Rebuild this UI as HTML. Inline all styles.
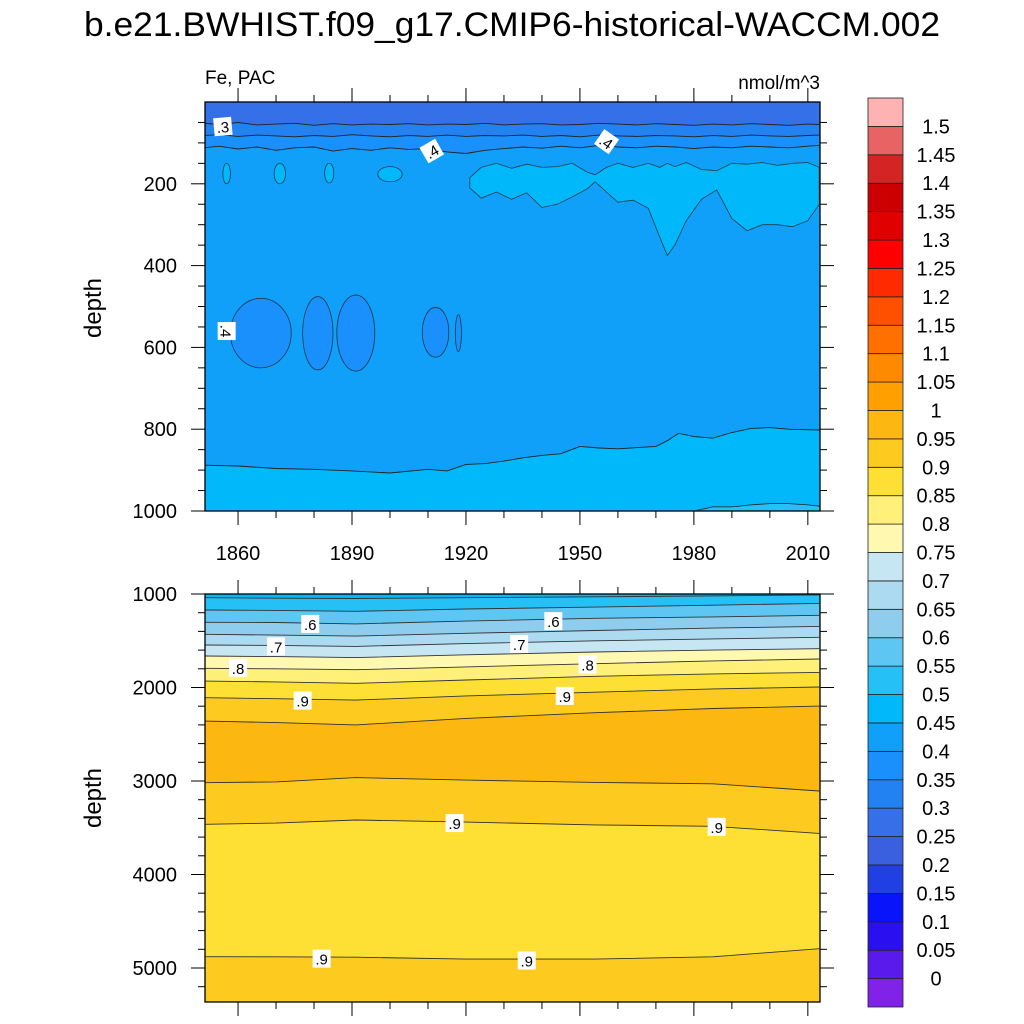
<!DOCTYPE html>
<html><head><meta charset="utf-8"><style>
body{margin:0;background:#fff;}
svg{display:block;font-family:"Liberation Sans",Arial,sans-serif;}
</style></head><body>
<svg id="chart" width="1024" height="1024" viewBox="0 0 1024 1024">
<text x="512" y="36" text-anchor="middle" font-size="34" textLength="856" lengthAdjust="spacingAndGlyphs">b.e21.BWHIST.f09_g17.CMIP6-historical-WACCM.002</text>
<text x="205" y="84" font-size="19">Fe, PAC</text>
<text x="820" y="89" text-anchor="end" font-size="19">nmol/m^3</text>
<g id="topPanel"></g>
<g id="botPanel"></g>
<g id="cbar"></g>
<text transform="translate(101,308) rotate(-90)" text-anchor="middle" font-size="24">depth</text>
<text transform="translate(101,798) rotate(-90)" text-anchor="middle" font-size="24">depth</text>
</svg>
<script>
// ---- data ----
const cbLevels = [0,0.05,0.1,0.15,0.2,0.25,0.3,0.35,0.4,0.45,0.5,0.55,0.6,0.65,0.7,0.75,0.8,0.85,0.9,0.95,1,1.05,1.1,1.15,1.2,1.25,1.3,1.35,1.4,1.45,1.5];
const cbColors = ["#8022e8","#5a1aec","#2a10f0","#0a14fa","#2040e4","#3a60e0","#3570e8","#2282f2","#1a90fc","#10a0fa","#00b8fa","#25c0f6","#5ec6f2","#8ecdee","#acdaf0","#c6e6f4","#fff8b0","#fff07a","#fee035","#fdcb20","#fcb710","#ffa000","#ff8a00","#ff7000","#ff5000","#ff2a00","#ff0000","#e00000","#cc0000","#d42525","#e86464","#ffb2b2"];

const topYears = [1851,1855,1860,1865,1870,1875,1880,1885,1890,1895,1900,1905,1910,1915,1920,1925,1930,1935,1940,1945,1950,1955,1960,1965,1970,1975,1980,1985,1990,1995,2000,2005,2010,2013];
const lineA = [52,55,50,56,54,52,57,53,56,54,55,53,56,54,55,52,56,54,53,56,55,52,54,56,53,55,57,54,56,53,55,57,54,55];
const lineB = [82,80,84,81,83,85,82,84,80,83,85,82,84,81,84,82,83,81,84,82,85,81,83,84,82,83,85,82,84,81,83,84,82,81];
const lineC = [112,108,115,110,118,112,110,120,114,118,112,116,114,122,126,118,114,110,113,108,112,106,110,112,108,110,114,110,112,108,110,112,108,106];
const deepYears = [1851,1860,1870,1880,1890,1900,1910,1915,1920,1925,1930,1935,1940,1945,1950,1955,1960,1965,1970,1973,1976,1980,1985,1990,1995,2000,2005,2013];
const deepLine = [888,890,896,898,902,907,898,902,886,884,878,870,864,860,842,846,848,845,842,828,810,818,822,808,798,796,800,802];
const patchYears = [1921,1924,1928,1932,1936,1940,1944,1948,1952,1954,1957,1960,1964,1968,1971,1973,1975,1978,1982,1986,1990,1994,1998,2002,2006,2010,2013];
const patchTop = [185,160,150,162,152,160,158,150,172,178,160,150,160,150,160,150,158,148,165,168,150,152,148,155,150,148,160];
const patchBot = [210,235,220,238,222,258,250,232,212,195,220,245,240,260,330,375,350,290,238,215,285,315,300,300,305,290,250];
const blobYears = [1857,1871,1884,1900,1866,1881,1891,1912,1918];
const blobHalfW = [1.0,1.5,1.2,3.2,8,4,5,3.5,0.8];
const blobTop = [150,150,150,158,480,476,472,502,520];
const blobBot = [200,200,198,195,650,655,658,624,610];
const blobVal = [0.45,0.45,0.45,0.45,0.35,0.35,0.35,0.35,0.35];
const deepPatchYears = [1980,1985,1990,1995,2000,2005,2010,2013];
const deepPatchTop = [1000,990,990,985,982,982,985,988];

const botYears = [1851,1870,1891,1920,1954,1985,2013];
const botLines = [
 [1040,1045,1048,1040,1030,1020,1010],
 [1171,1175,1185,1160,1140,1120,1100],
 [1303,1305,1320,1290,1260,1245,1228],
 [1431,1440,1450,1420,1390,1365,1346],
 [1545,1550,1560,1530,1500,1480,1463],
 [1663,1670,1680,1650,1620,1600,1585],
 [1795,1800,1810,1780,1745,1715,1695],
 [1930,1940,1955,1920,1880,1855,1838],
 [2109,2120,2135,2090,2050,2015,1995],
 [2358,2375,2400,2330,2270,2225,2199],
 [3018,3010,2964,2990,3015,3030,3107],
 [3463,3450,3417,3440,3470,3485,3560],
 [4879,4880,4885,4905,4905,4880,4794]];
const botBandVals = [0.45,0.5,0.55,0.6,0.65,0.7,0.75,0.8,0.85,0.9,0.95,0.9,0.85,0.9];

const xTickYears = [1860,1890,1920,1950,1980,2010];
const topYTicks = [200,400,600,800,1000];
const botYTicks = [1000,2000,3000,4000,5000];

const topLabels = [[1856,60,".3",-5],[1911,120,".4",-30],[1957,97,".4",35],[1857,560,".4",90]];
const botLabels = [[1879,1320,".6"],[1943,1290,".6"],[1870,1560,".7"],[1934,1535,".7"],[1860,1790,".8"],[1952,1755,".8"],[1877,2140,".9"],[1946,2090,".9"],[1917,3450,".9"],[1986,3490,".9"],[1882,4900,".9"],[1936,4920,".9"]];

// ---- axes ----
const X0=205,X1=820,Y0=1851.3,Y1=2013.2;
const xs = y => X0+(y-Y0)/(Y1-Y0)*(X1-X0);
const T0=102,T1=511; const ysT = d => T0 + d/1000*(T1-T0);
const B0=594,B1=1002; const ysB = d => B0 + (d-1000)*0.0935;
const NS="http://www.w3.org/2000/svg";
function mk(tag,attrs,parent){const e=document.createElementNS(NS,tag);for(const k in attrs)e.setAttribute(k,attrs[k]);parent.appendChild(e);return e;}
function colorOf(v){return cbColors[Math.round(v/0.05)+1];}
function pts(years,vals,ys){return years.map((y,i)=>xs(y).toFixed(1)+","+ys(vals[i]).toFixed(1));}

const topG=document.getElementById('topPanel');
const defs=mk('defs',{},document.getElementById('chart'));
const cp1=mk('clipPath',{id:'c1'},defs);mk('rect',{x:X0,y:T0,width:X1-X0,height:T1-T0},cp1);
const cp2=mk('clipPath',{id:'c2'},defs);mk('rect',{x:X0,y:B0,width:X1-X0,height:B1-B0},cp2);
const tg=mk('g',{'clip-path':'url(#c1)'},topG);
let r=mk('rect',{x:X0,y:T0,width:X1-X0,height:T1-T0,fill:colorOf(0.25)},tg);


const topSeq=[[topYears,lineA,0.3],[topYears,lineB,0.35],[topYears,lineC,0.4],[deepYears,deepLine,0.45]];
topSeq.forEach((s,i)=>{
  const p=pts(s[0],s[1],ysT);
  const poly=mk('polygon',{points:p.join(" ")+" "+(X1+5)+","+(T1+5)+" "+(X0-5)+","+(T1+5),fill:colorOf(s[2])},tg);
  
  
});
{const p=pts(patchYears,patchTop,ysT).concat(pts(patchYears,patchBot,ysT).reverse());
 const pe=mk('polygon',{points:p.join(" "),fill:colorOf(0.45),stroke:"#222",'stroke-width':0.8,'stroke-opacity':0.8},tg);
 
 }
blobYears.forEach((c,i)=>{
  const cx=xs(c),rx=xs(c+blobHalfW[i])-cx,cy=(ysT(blobTop[i])+ysT(blobBot[i]))/2,ry=(ysT(blobBot[i])-ysT(blobTop[i]))/2;
  const e=mk('ellipse',{cx:cx,cy:cy,rx:rx,ry:ry,fill:colorOf(blobVal[i]),stroke:"#222",'stroke-width':0.8,'stroke-opacity':0.8},tg);
  
  
});
{const p=pts(deepPatchYears,deepPatchTop,ysT);
 const pe=mk('polygon',{points:p.join(" ")+" "+(X1+5)+","+(T1+5)+" "+xs(deepPatchYears[0])+","+(T1+5),fill:colorOf(0.5),stroke:"#222",'stroke-width':0.8},tg);
 
 }
topSeq.forEach((s,i)=>{
  const l=mk('polyline',{points:pts(s[0],s[1],ysT).join(" "),fill:"none",stroke:"#222",'stroke-width':0.9},tg);
  
  
});
// bottom
const botG=document.getElementById('botPanel');
const bg=mk('g',{'clip-path':'url(#c2)'},botG);
r=mk('rect',{x:X0,y:B0,width:X1-X0,height:B1-B0,fill:colorOf(botBandVals[0])},bg);


botLines.forEach((ln,i)=>{
  const p=pts(botYears,ln,ysB);
  const poly=mk('polygon',{points:p.join(" ")+" "+(X1+5)+","+(B1+5)+" "+(X0-5)+","+(B1+5),fill:colorOf(botBandVals[i+1])},bg);
  
  
});
botLines.forEach((ln,i)=>{
  const l=mk('polyline',{points:pts(botYears,ln,ysB).join(" "),fill:"none",stroke:"#333",'stroke-width':0.9},bg);
  
  
});
// labels
topLabels.forEach(l=>{
  const g=mk('g',{transform:`translate(${xs(l[0])},${ysT(l[1])}) rotate(${l[3]})`},topG);
  
  
  mk('rect',{x:-9,y:-9,width:18,height:18,fill:"#fff"},g);
  mk('text',{x:0,y:6,'text-anchor':'middle','font-size':15},g).textContent=l[2];
});
botLabels.forEach(l=>{
  const g=mk('g',{transform:`translate(${xs(l[0])},${ysB(l[1])})`},botG);
  
  
  mk('rect',{x:-9,y:-9,width:18,height:18,fill:"#fff"},g);
  mk('text',{x:0,y:6,'text-anchor':'middle','font-size':15},g).textContent=l[2];
});
// frames & ticks
function ticks(par,yTop,yBot,ys,majors,minorStep,dmin,dmax){
  mk('rect',{x:X0,y:yTop,width:X1-X0,height:yBot-yTop,fill:"none",stroke:"#000",'stroke-width':1.3},par);
  for(let yr=1860;yr<=2013;yr+=10){const x=xs(yr);const len=(yr-1860)%30===0?14:7;
    mk('line',{x1:x,x2:x,y1:yTop,y2:yTop-len,stroke:"#000",'stroke-width':1},par);
    mk('line',{x1:x,x2:x,y1:yBot,y2:yBot+len,stroke:"#000",'stroke-width':1},par);}
  for(let d=dmin;d<=dmax;d+=minorStep){const y=ys(d);if(y<yTop-0.5||y>yBot+0.5)continue;
    const len=majors.includes(d)?14:7;
    mk('line',{x1:X0,x2:X0-len,y1:y,y2:y,stroke:"#000",'stroke-width':1},par);
    mk('line',{x1:X1,x2:X1+len,y1:y,y2:y,stroke:"#000",'stroke-width':1},par);}
  majors.forEach(d=>{const t=mk('text',{x:177,y:ys(d)+7,'text-anchor':'end','font-size':20},par);t.textContent=d;
    
    });
}
ticks(topG,T0,T1,ysT,topYTicks,50,50,1000);
ticks(botG,B0,B1,ysB,botYTicks,200,1000,5400);
xTickYears.forEach(yr=>{const t=mk('text',{x:xs(yr),y:560,'text-anchor':'middle','font-size':20},topG);t.textContent=yr;
  
  });
// colorbar
const cb=document.getElementById('cbar');
const CBX=868,CBW=35,CBT=98,CBB=1007,n=cbColors.length,bh=(CBB-CBT)/n;
cbColors.forEach((c,i)=>{const y=CBB-(i+1)*bh;
  const b=mk('rect',{x:CBX,y:y,width:CBW,height:bh,fill:c,stroke:"#222",'stroke-width':0.8},cb);
  
  });
cbLevels.forEach((v,i)=>{const y=CBB-(i+1)*bh;
  const t=mk('text',{x:936,y:y+7,'text-anchor':'middle','font-size':20},cb);t.textContent=String(v);
  
  });
</script>
</body></html>
